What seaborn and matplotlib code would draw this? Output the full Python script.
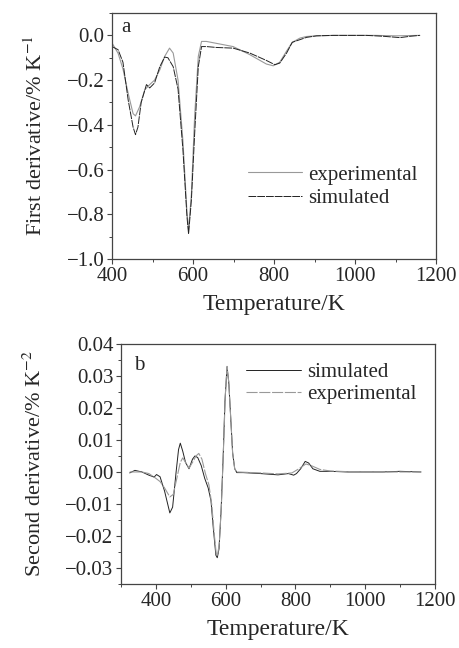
import matplotlib
matplotlib.use('Agg')
import matplotlib.pyplot as plt
from matplotlib.ticker import MultipleLocator, FuncFormatter
import seaborn as sns

# panel a: first derivative (%/K)
t1_sim = [400, 415, 427, 440, 452, 458, 464, 472, 485, 493, 505, 518, 530, 538, 551, 563,
          575, 585, 589, 596, 604, 613, 621, 633, 658, 699, 740, 781, 802, 814, 831, 845,
          864, 880, 905, 946, 1000, 1028, 1070, 1111, 1136, 1160]
d1_sim = [-0.05, -0.064, -0.12, -0.29, -0.41, -0.444, -0.41, -0.30, -0.22, -0.235, -0.213, -0.14,
          -0.097, -0.10, -0.14, -0.24, -0.51, -0.81, -0.888, -0.735, -0.44, -0.14, -0.05, -0.05,
          -0.054, -0.057, -0.079, -0.112, -0.131, -0.124, -0.079, -0.031, -0.019, -0.009, -0.002,
          0.0, 0.0, 0.0, -0.004, -0.01, -0.004, 0.0]

t1_exp = [400, 415, 427, 440, 452, 458, 468, 481, 493, 505, 518, 530, 542, 551, 563, 575,
          585, 589, 596, 604, 613, 621, 633, 699, 740, 781, 798, 814, 831, 845, 864, 880,
          905, 946, 1000, 1050, 1100, 1160]
d1_exp = [-0.034, -0.08, -0.15, -0.26, -0.35, -0.36, -0.32, -0.243, -0.22, -0.20, -0.154, -0.094,
          -0.057, -0.079, -0.20, -0.47, -0.79, -0.87, -0.71, -0.36, -0.094, -0.027, -0.027, -0.05,
          -0.086, -0.128, -0.136, -0.12, -0.07, -0.031, -0.012, -0.005, -0.002, 0.0, 0.0, 0.0,
          -0.002, 0.0]

# panel b: second derivative (%/K^2)
t2_sim = [325, 340, 360, 380, 395, 402, 412, 425, 440, 448, 458, 465, 470, 477, 485, 495,
          505, 512, 520, 530, 540, 550, 558, 565, 572, 576, 581, 587, 593, 598, 604, 609,
          615, 620, 626, 632, 650, 700, 750, 780, 795, 803, 815, 828, 838, 850, 870, 900,
          950, 1000, 1050, 1100, 1160]
d2_sim = [-0.0003, 0.0005, 0.0, -0.001, -0.0016, -0.0008, -0.0015, -0.006, -0.0128, -0.011, 0.0,
          0.007, 0.009, 0.0065, 0.003, 0.001, 0.004, 0.005, 0.0045, 0.002, -0.002, -0.005, -0.009,
          -0.018, -0.026, -0.0268, -0.024, -0.012, 0.005, 0.022, 0.0327, 0.028, 0.016, 0.006,
          0.001, -0.0002, -0.0002, -0.0005, -0.0009, -0.0005, -0.001, -0.0005, 0.001, 0.0033,
          0.0028, 0.001, 0.0002, 0.0002, 0.0, 0.0, 0.0, 0.0002, 0.0]

t2_exp = [325, 360, 380, 400, 412, 425, 440, 450, 460, 470, 477, 485, 495, 505, 515, 523,
          532, 542, 552, 560, 567, 573, 577, 582, 588, 594, 599, 604, 609, 615, 620, 626,
          632, 700, 750, 790, 810, 830, 845, 870, 900, 950, 1000, 1160]
d2_exp = [0.0, 0.0, -0.0005, -0.002, -0.003, -0.005, -0.0078, -0.007, -0.002, 0.003, 0.0044,
          0.003, 0.0012, 0.003, 0.005, 0.0058, 0.004, -0.0005, -0.004, -0.010, -0.019, -0.0255,
          -0.026, -0.022, -0.010, 0.008, 0.024, 0.033, 0.028, 0.016, 0.006, 0.001, 0.0, -0.0003,
          -0.0006, -0.0003, 0.001, 0.0025, 0.002, 0.0008, 0.0003, 0.0001, 0.0, 0.0]

sns.set_style('ticks')
plt.rcParams['font.family'] = ['Liberation Serif', 'DejaVu Serif']
plt.rcParams['mathtext.fontset'] = 'stix'
spine_c = '#444444'
dark = '#222222'
light = '#999999'


def fmt2(v, pos):
    s = f'{v:.2f}'
    if s == '-0.00':
        s = '0.00'
    return s.replace('-', '\u2212')


fig = plt.figure(figsize=(4.6, 6.48), dpi=100)
ax1 = fig.add_axes([0.2435, 0.6003, 0.7045, 0.3796])
ax2 = fig.add_axes([0.263, 0.0988, 0.6826, 0.3704])

sns.lineplot(x=t1_exp, y=d1_exp, ax=ax1, color=light, lw=0.8, label='experimental')
sns.lineplot(x=t1_sim, y=d1_sim, ax=ax1, color=dark, lw=0.7, label='simulated')
ax1.lines[1].set_dashes([8, 1])

sns.lineplot(x=t2_sim, y=d2_sim, ax=ax2, color=dark, lw=0.7, label='simulated')
sns.lineplot(x=t2_exp, y=d2_exp, ax=ax2, color=light, lw=0.8, label='experimental')
ax2.lines[1].set_dashes([10, 1.5])

ax1.set_xlim(400, 1200)
ax1.set_ylim(-1.0, 0.1)
ax1.xaxis.set_major_locator(MultipleLocator(200))
ax1.xaxis.set_minor_locator(MultipleLocator(100))
ax1.yaxis.set_major_locator(MultipleLocator(0.2))
ax1.yaxis.set_minor_locator(MultipleLocator(0.1))
ax1.set_ylabel(r'First derivative/% K$^{-1}$', fontsize=16, labelpad=14)
ax1.set_xlabel('Temperature/K', fontsize=17, labelpad=6)
ax1.text(0.03, 0.94, 'a', transform=ax1.transAxes, fontsize=15, va='center')
ax1.legend(loc='lower right', bbox_to_anchor=(1.0, 0.13), frameon=False, fontsize=15,
           handlelength=2.6, handletextpad=0.3, labelspacing=0.2)

ax2.set_xlim(300, 1200)
ax2.set_ylim(-0.035, 0.04)
ax2.xaxis.set_major_locator(MultipleLocator(200))
ax2.xaxis.set_minor_locator(MultipleLocator(100))
ax2.yaxis.set_major_locator(MultipleLocator(0.01))
ax2.yaxis.set_minor_locator(MultipleLocator(0.005))
ax2.yaxis.set_major_formatter(FuncFormatter(fmt2))
ax2.set_ylabel(r'Second derivative/% K$^{-2}$', fontsize=16, labelpad=14)
ax2.set_xlabel('Temperature/K', fontsize=17, labelpad=6)
ax2.text(0.04, 0.91, 'b', transform=ax2.transAxes, fontsize=15, va='center')
ax2.legend(loc='upper right', bbox_to_anchor=(1.0, 1.0), frameon=False, fontsize=15,
           handlelength=2.6, handletextpad=0.3, labelspacing=0.1)

for ax in (ax1, ax2):
    for s in ax.spines.values():
        s.set_color(spine_c)
        s.set_linewidth(0.9)
    ax.tick_params(which='major', direction='out', length=3.5, width=0.8, color=spine_c,
                   labelsize=15, pad=2)
    ax.tick_params(which='minor', direction='out', length=2, width=0.7, color=spine_c)

fig.savefig('out.png', dpi=100)
